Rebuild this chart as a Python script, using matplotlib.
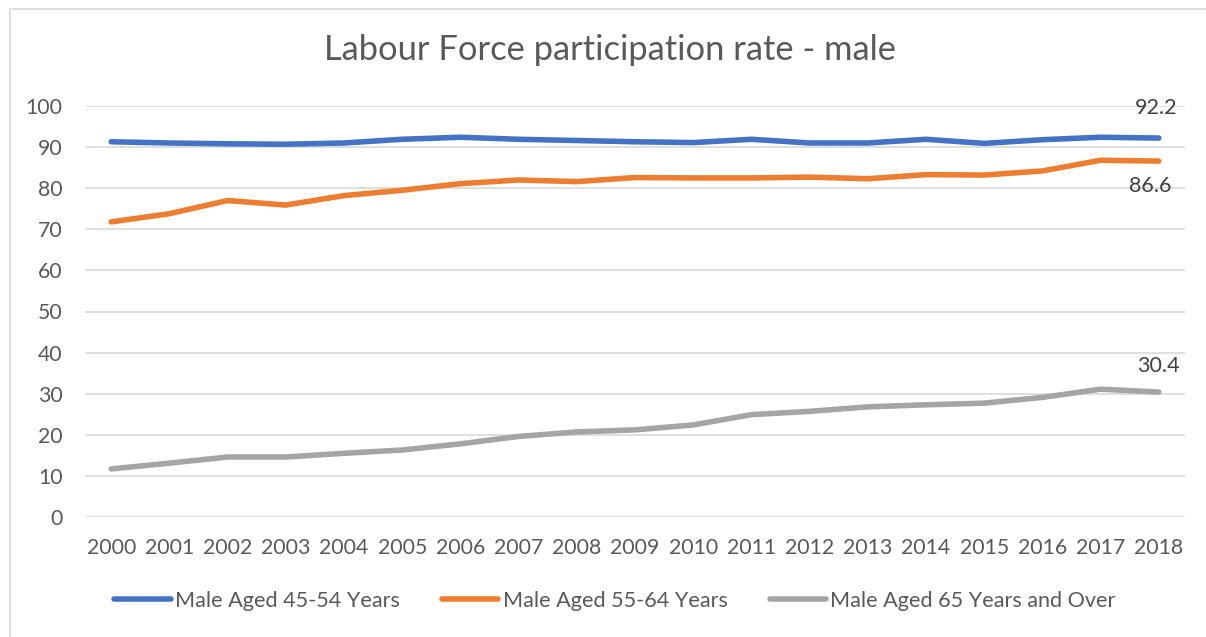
import matplotlib.pyplot as plt
from matplotlib.lines import Line2D

plt.rcParams['font.family'] = ['Lato', 'DejaVu Sans']

years = [str(y) for y in range(2000, 2019)]
male_45_54 = [91.3, 91.0, 90.8, 90.7, 91.0, 91.9, 92.4, 91.9, 91.6, 91.3,
              91.1, 91.9, 91.0, 91.0, 91.9, 90.9, 91.8, 92.4, 92.2]
male_55_64 = [71.8, 73.8, 77.0, 75.9, 78.2, 79.5, 81.1, 82.0, 81.6, 82.6,
              82.5, 82.5, 82.7, 82.3, 83.3, 83.2, 84.2, 86.8, 86.6]
male_65_over = [11.7, 13.1, 14.6, 14.6, 15.5, 16.3, 17.8, 19.6, 20.7, 21.2,
                22.4, 24.9, 25.7, 26.8, 27.3, 27.7, 29.1, 31.1, 30.4]
labels = ['Male Aged 45-54 Years', 'Male Aged 55-64 Years', 'Male Aged 65 Years and Over']
colors = ['#4472C4', '#ED7D31', '#A5A5A5']
text_col = '#595959'

fig = plt.figure(figsize=(12.06, 6.37), dpi=100)
ax = fig.add_axes([85 / 1206, 1 - 517 / 637, 1100 / 1206, 411 / 637])

# chart border (only left and top edges are visible in the screenshot)
fig.lines.append(Line2D([9.5 / 1206, 9.5 / 1206, 1.0], [0, 1 - 8.5 / 637, 1 - 8.5 / 637],
                        transform=fig.transFigure, color='#D9D9D9', linewidth=1.2))

x = range(len(years))
for vals, lab, c in zip([male_45_54, male_55_64, male_65_over], labels, colors):
    ax.plot(x, vals, color=c, linewidth=4, label=lab, solid_capstyle='round')

# end labels
ax.annotate(f'{male_45_54[-1]}', (x[-1], male_45_54[-1]), xytext=(-2, 22), textcoords='offset points',
            ha='center', va='center', fontsize=15.5, color='#404040')
ax.annotate(f'{male_55_64[-1]}', (x[-1], male_55_64[-1]), xytext=(-6, -18), textcoords='offset points',
            ha='center', va='center', fontsize=15.5, color='#404040')
ax.annotate(f'{male_65_over[-1]}', (x[-1], male_65_over[-1]), xytext=(0, 19), textcoords='offset points',
            ha='center', va='center', fontsize=15.5, color='#404040')

ax.set_xlim(-0.45, len(years) - 0.55)
ax.set_ylim(0, 100)
ax.set_yticks(range(0, 101, 10))
ax.set_xticks(list(x))
ax.set_xticklabels(years)
ax.grid(axis='y', color='#D9D9D9', linewidth=1.2)
ax.set_axisbelow(True)
for s in ax.spines.values():
    s.set_visible(False)
ax.tick_params(length=0, labelsize=15.3, colors=text_col)
ax.tick_params(axis='x', pad=15)
ax.tick_params(axis='y', pad=16)

fig.text(610 / 1206, 1 - 50 / 637, 'Labour Force participation rate - male', ha='center', va='center',
         fontsize=24.8, color=text_col)

fig.legend(loc='center', bbox_to_anchor=(615 / 1206, 1 - 601 / 637), ncol=3, frameon=False,
           fontsize=15.6, labelcolor=text_col, handlelength=2.6, handletextpad=0.2, columnspacing=1.95)

fig.savefig('out.png', dpi=100)
